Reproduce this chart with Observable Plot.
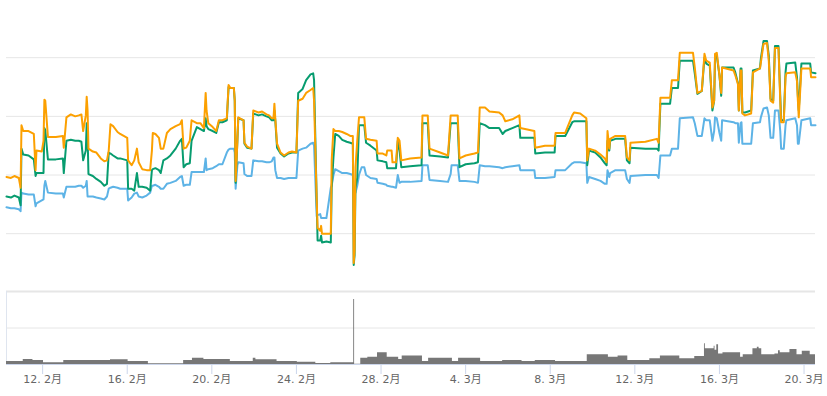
<!DOCTYPE html>
<html>
<head>
<meta charset="utf-8">
<script src="https://cdn.jsdelivr.net/npm/d3@7"></script>
<script src="https://cdn.jsdelivr.net/npm/@observablehq/plot@0.6"></script>
<style>
  html, body { margin: 0; padding: 0; background: #fff; }
  #chart svg { display: block; }
</style>
</head>
<body>
<div id="chart"></div>
<script>
// Time axis: hours since 2021-02-10 00:00 UTC
const startDate = "2021-02-10T00:00:00Z";
const hours = [7,12,16,21,23,24,26,32,38,40,41,47,49,50,51,54,63,71,72,75,80,85,89,92,94,97,98,99,100,105,109,114,118,121,123,125,128,133,136,144,145,149,152,155,157,161,166,170,172,173,176,180,182,185,189,193,199,204,206,208,211,215,217,223,227,231,233,234,236,241,245,248,252,257,259,261,265,266,267,269,270,276,277,280,285,287,293,297,302,305,308,310,311,312,314,318,322,327,331,336,338,343,347,352,355,356,359,360,363,364,365,370,375,376,378,380,384,388,393,397,400,401,402,403,405,407,410,413,415,420,427,428,434,438,439,444,445,449,451,453,455,465,478,479,485,487,499,508,511,512,519,521,528,538,542,544,550,555,566,570,573,581,589,590,606,607,618,629,630,641,649,651,658,665,666,668,675,681,686,688,689,691,692,698,709,711,714,715,732,745,747,749,760,762,769,771,786,788,791,796,799,801,805,808,810,811,813,816,818,819,832,834,837,838,840,841,842,845,852,854,862,863,866,870,872,874,877,879,883,885,886,889,891,892,902,904,905,906,909,919,920,925];

const orange = [118,117,119,117,107,171,165,165,162,125,145,144,155,197,196,159,159,160,148,179,182,180,181,182,165,181,200,186,147,144,143,137,134,135,145,172,170,164,162,158,135,130,135,147,133,126,125,125,145,163,162,158,147,147,163,167,170,172,176,147,148,155,176,173,173,168,204,186,173,169,165,176,176,178,212,209,209,196,114,155,179,176,153,149,147,186,184,185,182,181,178,178,193,178,152,143,140,143,144,143,196,198,204,207,209,196,94,66,63,68,60,60,60,135,167,165,165,164,162,160,160,30,43,128,155,179,179,179,157,156,155,142,142,140,145,145,133,133,158,155,135,137,138,181,181,147,143,140,181,181,181,137,140,142,143,189,189,185,184,181,175,177,181,168,165,148,150,150,163,163,181,184,183,178,135,147,145,141,137,133,165,147,157,160,160,138,135,153,154,157,153,199,199,217,217,245,245,230,204,206,244,237,235,189,196,244,245,222,204,230,227,222,213,186,227,227,183,181,183,225,229,235,254,255,237,196,194,250,250,196,174,174,220,224,225,216,196,179,229,229,220,220];

const green = [98,97,99,97,89,147,141,140,136,119,122,122,122,168,166,136,136,137,122,155,156,155,155,154,135,145,173,160,121,119,116,113,109,111,143,142,140,137,137,135,106,106,104,122,108,108,107,104,125,126,127,125,122,135,137,140,147,155,157,128,131,132,155,169,167,165,178,170,167,165,163,174,174,176,210,209,209,196,112,155,178,176,152,148,147,183,181,182,180,179,176,176,186,176,148,142,139,142,143,143,204,208,217,223,224,217,94,53,53,58,51,52,51,107,138,162,160,156,154,153,152,28,38,107,117,171,171,171,153,150,145,135,134,133,127,127,127,127,155,145,128,129,130,173,173,140,139,138,173,173,173,128,131,132,133,173,171,168,168,162,165,168,171,158,158,142,143,143,160,160,174,175,175,175,130,145,143,138,132,130,155,145,155,157,157,135,132,148,147,147,145,193,193,209,209,237,237,224,203,206,240,234,232,186,196,240,242,222,201,230,230,225,214,186,229,229,184,184,186,227,229,239,257,257,242,198,196,252,252,201,176,176,225,234,235,220,201,186,234,234,225,224];

const blue = [87,86,86,85,83,102,101,100,100,88,91,94,95,109,114,102,101,101,97,108,108,108,109,109,107,109,114,98,98,98,97,96,95,98,106,107,108,107,106,106,94,97,101,102,98,97,99,102,109,109,110,108,106,106,111,112,114,118,119,109,110,110,123,123,123,123,137,125,126,127,129,131,131,143,146,147,147,143,106,130,133,132,121,119,119,135,134,134,133,133,134,138,138,125,117,117,116,117,117,117,145,147,148,152,153,150,78,79,80,76,76,76,107,109,120,126,124,122,122,121,120,101,101,102,109,120,128,128,120,117,116,112,111,110,109,108,108,107,120,112,113,113,114,130,130,115,114,113,121,130,130,114,114,113,112,130,129,129,128,127,128,129,130,125,125,117,117,118,125,125,132,133,133,132,112,118,116,114,111,111,125,118,122,125,125,116,112,119,120,120,117,140,140,147,147,178,179,173,160,160,178,176,176,155,165,179,178,163,155,176,174,173,173,153,173,174,152,152,152,173,174,179,188,189,181,158,158,186,186,165,147,147,171,176,178,171,152,152,176,178,171,171];

// Volume pane (step series)
const volHours = [7,26,37,49,72,125,145,168,208,218,231,261,287,290,314,337,358,375,401,402,409,417,428,439,452,456,479,486,513,520,545,570,592,607,630,666,690,701,712,737,749,771,788,799,800,810,811,813,815,820,840,843,854,859,861,864,879,883,885,896,904,910,919,925];
const volume = [0.08,0.14,0.11,0.05,0.11,0.13,0.08,0.02,0.11,0.17,0.14,0.08,0.17,0.13,0.08,0.06,0.03,0.05,1.78,0.01,0.17,0.2,0.32,0.2,0.14,0.23,0.08,0.17,0.08,0.17,0.08,0.11,0.08,0.11,0.08,0.27,0.2,0.23,0.11,0.16,0.23,0.16,0.22,0.57,0.43,0.5,0.39,0.54,0.29,0.32,0.2,0.27,0.43,0.47,0.43,0.27,0.29,0.38,0.32,0.41,0.27,0.36,0.27,0.27];

const tickDates = ["2021-02-12","2021-02-16","2021-02-20","2021-02-24","2021-02-28","2021-03-04","2021-03-08","2021-03-12","2021-03-16","2021-03-20"];
const gridValues = [60, 120, 180, 240];

const t0 = new Date(startDate).getTime();
const toDate = h => new Date(t0 + h * 3600000);
const rows = hours.map((h, i) => ({date: toDate(h), orange: orange[i], green: green[i], blue: blue[i]}));
const volRows = volHours.map((h, i) => ({date: toDate(h), volume: volume[i]}));
const xDomain = [toDate(hours[0]), toDate(hours[hours.length - 1])];
const tickValues = tickDates.map(s => new Date(s + "T00:00:00Z"));
console.log("lengths", hours.length, orange.length, green.length, blue.length, volHours.length, volume.length);

const fontFamily = "'DejaVu Sans', 'Noto Sans CJK SC', sans-serif";

const pricePane = Plot.plot({
  width: 827, height: 290,
  marginLeft: 6, marginRight: 12, marginTop: 0, marginBottom: 0,
  style: {fontFamily, background: "#fff"},
  x: {type: "utc", domain: xDomain, axis: null},
  y: {domain: [1.9, 298.5], axis: null},
  marks: [
    Plot.gridY(gridValues, {stroke: "#e6e6e6", strokeOpacity: 1}),
    Plot.lineY(rows, {x: "date", y: "blue", stroke: "#5db3e6", strokeWidth: 2}),
    Plot.lineY(rows, {x: "date", y: "green", stroke: "#079c6f", strokeWidth: 2}),
    Plot.lineY(rows, {x: "date", y: "orange", stroke: "#fca000", strokeWidth: 2})
  ]
});

const volumePane = Plot.plot({
  width: 827, height: 106,
  marginLeft: 6, marginRight: 12, marginTop: 1, marginBottom: 32,
  style: {fontFamily, fontSize: "11px", background: "#fff"},
  x: {type: "utc", domain: xDomain},
  y: {domain: [0, 2], axis: null},
  marks: [
    Plot.ruleY([1], {stroke: "#e6e6e6"}),
    Plot.ruleY([2], {stroke: "#e6e6e6", strokeWidth: 2}),
    Plot.ruleX([xDomain[0]], {stroke: "#dfe5ef"}),
    Plot.areaY(volRows, {x: "date", y: "volume", curve: "step-after", fill: "#777777"}),
    Plot.ruleY([0], {stroke: "#ccd6eb"}),
    Plot.axisX({ticks: tickValues, tickFormat: d3.utcFormat("%-d. %-m月"), tickSize: 10, tickPadding: 1, stroke: "#ccd6eb", fill: "#666666", label: null})
  ]
});

const root = document.getElementById("chart");
root.appendChild(pricePane);
root.appendChild(volumePane);
</script>
</body>
</html>
